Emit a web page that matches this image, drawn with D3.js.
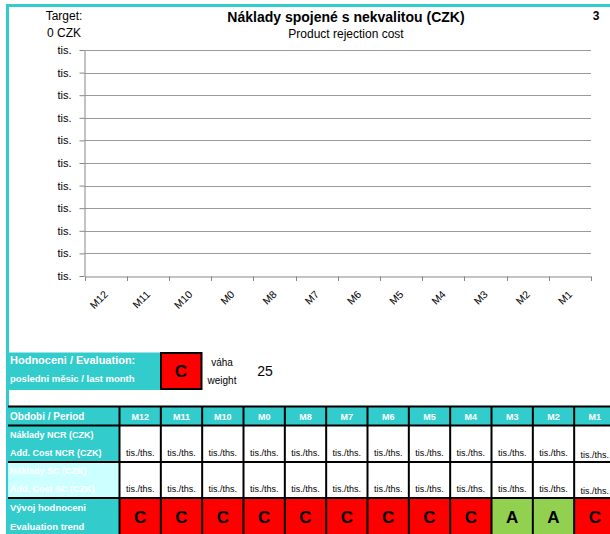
<!DOCTYPE html>
<html><head><meta charset="utf-8">
<script src="https://cdn.jsdelivr.net/npm/d3@7"></script>
<style>body{margin:0;background:#fff}svg{display:block}text{font-family:"Liberation Sans",Arial,sans-serif}</style>
</head><body><svg id="c" width="610" height="534"></svg>
<script>
const months = ["M12","M11","M10","M0","M8","M7","M6","M5","M4","M3","M2","M1"];
const yTicks = [0,1,2,3,4,5,6,7,8,9,10];
const yTickLabel = "tis.";
const costValues = [null,null,null,null,null,null,null,null,null,null,null,null];
const ncrValues = ["tis./ths.","tis./ths.","tis./ths.","tis./ths.","tis./ths.","tis./ths.","tis./ths.","tis./ths.","tis./ths.","tis./ths.","tis./ths.","tis./ths."];
const scValues = ["tis./ths.","tis./ths.","tis./ths.","tis./ths.","tis./ths.","tis./ths.","tis./ths.","tis./ths.","tis./ths.","tis./ths.","tis./ths.","tis./ths."];
const trend = ["C","C","C","C","C","C","C","C","C","A","A","C"];
const lastGrade = "C";
const weight = 25;
const title = "Náklady spojené s nekvalitou (CZK)";
const subtitle = "Product rejection cost";
const target = ["Target:","0 CZK"];
const pageNo = "3";

const TEAL = "#33CCCC", LIGHT = "#CCFFFF";
const gradeColor = g => g === "A" ? "#92D050" : (g === "B" ? "#FFFF00" : "#FF0000");

const svg = d3.select("#c");
svg.append("rect").attr("width",610).attr("height",534).attr("fill","#fff");

// frame
svg.append("rect").attr("x",6).attr("y",4).attr("width",604).attr("height",3).attr("fill",TEAL);
svg.append("rect").attr("x",6).attr("y",4).attr("width",3).attr("height",530).attr("fill",TEAL);

// titles
svg.append("text").attr("x",346).attr("y",22).attr("text-anchor","middle").attr("font-size",14).attr("font-weight","bold").text(title);
svg.append("text").attr("x",346).attr("y",38).attr("text-anchor","middle").attr("font-size",12).text(subtitle);
svg.append("text").attr("x",596).attr("y",20).attr("text-anchor","middle").attr("font-size",12).attr("font-weight","bold").text(pageNo);
svg.selectAll("text.tg").data(target).join("text").attr("class","tg")
  .attr("x",64).attr("y",(d,i)=>20+i*16.5).attr("text-anchor","middle").attr("font-size",12).text(d=>d);

// chart
const x = d3.scaleBand().domain(months).range([84.5,591]);
const y = d3.scaleLinear().domain([0,10]).range([276,50]);
const g = svg.append("g");
g.selectAll("line.grid").data(yTicks.filter(t=>t>0)).join("line").attr("class","grid")
  .attr("x1",84.5).attr("x2",591).attr("y1",d=>Math.round(y(d))+0.5).attr("y2",d=>Math.round(y(d))+0.5)
  .attr("stroke","#9a9a9a").attr("stroke-width",1);
const ya = g.append("g").attr("transform","translate(84.5,0)")
  .call(d3.axisLeft(y).tickValues(yTicks).tickFormat(()=>yTickLabel).tickSize(5).tickSizeOuter(0));
ya.select(".domain").attr("stroke","#868686");
ya.selectAll(".tick line").attr("stroke","#868686");
ya.selectAll(".tick text").attr("font-size",11).attr("fill","#000").attr("x",-13).attr("font-family","Liberation Sans, Arial, sans-serif");
const xa = g.append("g").attr("transform","translate(0,276.5)")
  .call(d3.axisBottom(x).tickSize(0).tickSizeOuter(0));
xa.select(".domain").attr("stroke","#868686");
xa.selectAll(".tick text").attr("font-size",10.5).attr("fill","#000").attr("font-family","Lato, sans-serif")
  .attr("text-anchor","end").attr("dy",0).attr("y",0)
  .attr("transform","translate(3,18.5) rotate(-45)");
const bounds = months.map(m=>x(m)).concat([x.range()[1]]);
g.selectAll("line.xt").data(bounds).join("line").attr("class","xt")
  .attr("x1",d=>Math.round(d)+0.5).attr("x2",d=>Math.round(d)+0.5).attr("y1",276.5).attr("y2",281).attr("stroke","#868686");
// data line (no values)
g.append("path").datum(costValues.map((v,i)=>({m:months[i],v})))
  .attr("fill","none").attr("stroke","#1f4e99").attr("stroke-width",2)
  .attr("d",d3.line().defined(d=>d.v!=null).x(d=>x(d.m)+x.bandwidth()/2).y(d=>y(d.v)));

// evaluation block
svg.append("rect").attr("x",8).attr("y",352.5).attr("width",153).attr("height",37.5).attr("fill",TEAL);
svg.append("text").attr("x",10).attr("y",364).attr("font-size",11).attr("font-weight","bold").attr("fill","#fff").text("Hodnoceni / Evaluation:");
svg.append("text").attr("x",10).attr("y",382).attr("font-size",9.5).attr("font-weight","bold").attr("fill","#fff").text("posledni měsic / last month");
svg.append("rect").attr("x",161).attr("y",353).attr("width",40.5).attr("height",36).attr("fill",gradeColor(lastGrade)).attr("stroke","#000").attr("stroke-width",2);
svg.append("text").attr("x",181).attr("y",377).attr("text-anchor","middle").attr("font-size",17).attr("font-weight","bold").text(lastGrade);
svg.append("text").attr("x",222).attr("y",366).attr("text-anchor","middle").attr("font-size",10).text("váha");
svg.append("text").attr("x",222).attr("y",384).attr("text-anchor","middle").attr("font-size",10).text("weight");
svg.append("text").attr("x",265).attr("y",375.5).attr("text-anchor","middle").attr("font-size",14).text(weight);

// table
const cx = d3.scaleBand().domain(months).range([119.5,615.5]);
const rows = [406.5,425.5,462,498,540];
const t = svg.append("g");
// label column fills
t.append("rect").attr("x",8).attr("y",rows[0]).attr("width",111.5).attr("height",rows[2]-rows[0]).attr("fill",TEAL);
t.append("rect").attr("x",8).attr("y",rows[2]).attr("width",111.5).attr("height",rows[3]-rows[2]).attr("fill",LIGHT);
t.append("rect").attr("x",8).attr("y",rows[3]).attr("width",111.5).attr("height",rows[4]-rows[3]).attr("fill",TEAL);
// header month cells
t.selectAll("rect.h").data(months).join("rect").attr("class","h")
  .attr("x",d=>cx(d)).attr("y",rows[0]).attr("width",cx.bandwidth()).attr("height",rows[1]-rows[0]).attr("fill",TEAL);
t.selectAll("text.h").data(months).join("text").attr("class","h")
  .attr("x",d=>cx(d)+cx.bandwidth()/2).attr("y",419.5).attr("text-anchor","middle")
  .attr("font-size",9).attr("font-weight","bold").attr("fill","#fff").text(d=>d);
// trend cells
t.selectAll("rect.tr").data(trend).join("rect").attr("class","tr")
  .attr("x",(d,i)=>cx(months[i])).attr("y",rows[3]).attr("width",cx.bandwidth()).attr("height",rows[4]-rows[3]).attr("fill",d=>gradeColor(d));
t.selectAll("text.tr").data(trend).join("text").attr("class","tr")
  .attr("x",(d,i)=>cx(months[i])+cx.bandwidth()/2).attr("y",523).attr("text-anchor","middle")
  .attr("font-size",17).attr("font-weight","bold").text(d=>d);
// value cells
[[ncrValues,456],[scValues,492]].forEach(([vals,yy])=>{
  t.selectAll(null).data(vals).join("text")
    .attr("x",(d,i)=>cx(months[i])+cx.bandwidth()/2).attr("y",(d,i)=>i===11?yy+2:yy).attr("text-anchor","middle")
    .attr("font-size",9).text(d=>d);
});
// row labels
const labels = [
  ["Obdobi / Period",420,10,"#fff"],
  ["Náklady NCR (CZK)",438,9,"#fff"],
  ["Add. Cost NCR (CZK)",456,9,"#fff"],
  ["Náklady SC (CZK)",474,9,"#fff"],
  ["Add. Cost SC (CZK)",492,9,"#fff"],
  ["Vývoj hodnoceni",511,9.5,"#fff"],
  ["Evaluation trend",530,9.5,"#fff"]
];
t.selectAll("text.lb").data(labels).join("text").attr("class","lb")
  .attr("x",10).attr("y",d=>d[1]).attr("font-size",d=>d[2]).attr("font-weight","bold").attr("fill",d=>d[3]).text(d=>d[0]);
// grid lines
t.selectAll("line.hr").data(rows.slice(0,4)).join("line").attr("class","hr")
  .attr("x1",8).attr("x2",610).attr("y1",d=>d).attr("y2",d=>d).attr("stroke","#000").attr("stroke-width",2);
const vlines = [119.5].concat(months.slice(1).map(m=>cx(m)));
t.selectAll("line.vr").data(vlines).join("line").attr("class","vr")
  .attr("x1",d=>d).attr("x2",d=>d).attr("y1",rows[0]).attr("y2",534).attr("stroke","#000").attr("stroke-width",2);
</script></body></html>
